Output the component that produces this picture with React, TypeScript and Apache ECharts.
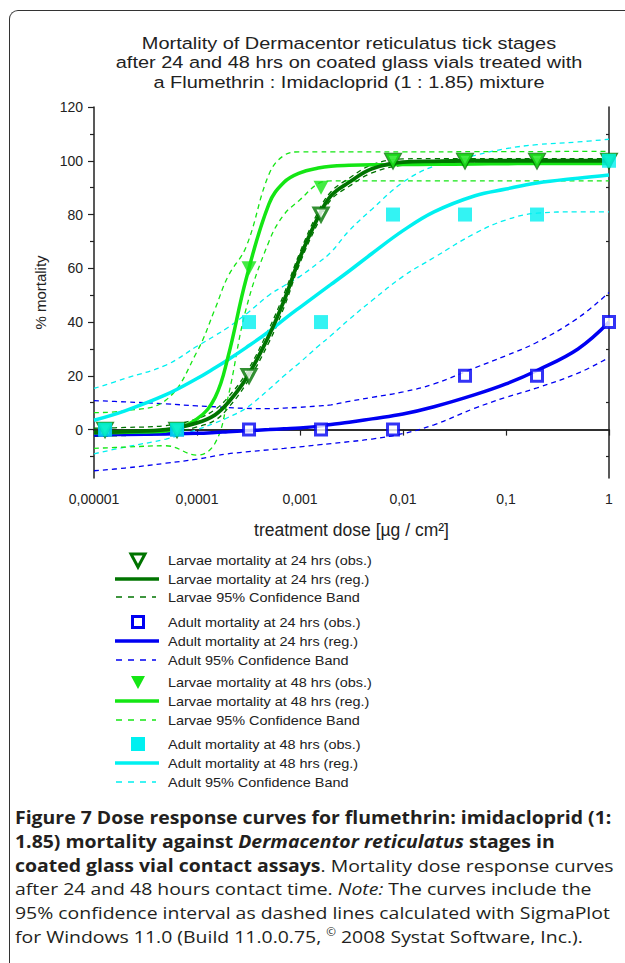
import React, { useEffect, useRef } from "react";
import * as echarts from "echarts";

// ---------- data ----------
const curveDoses = [1e-5, 2e-5, 5e-5, 1e-4, 1.5e-4, 2e-4, 3e-4, 5e-4, 7e-4, 1e-3, 1.5e-3, 2e-3, 3e-3, 5e-3, 1e-2, 2e-2, 5e-2, 0.1, 0.2, 0.5, 1];

const larvae24Reg = [-1, -0.7, 0, 2.5, 5.5, 10, 19, 35, 48, 64, 79, 87, 92, 97, 99.5, 99.8, 100, 100, 100, 100, 100];
const larvae24Upper = [0.5, 0.8, 1.5, 4, 7.5, 12, 21, 37.5, 50.5, 66, 81, 88.5, 93.5, 98.5, 100.7, 100.8, 100.8, 100.8, 100.8, 100.8, 100.8];
const larvae24Lower = [-2.5, -2.2, -1.5, 1, 3.5, 8, 17, 32.5, 45.5, 62, 77, 85.5, 90.5, 95.5, 98.3, 98.8, 99, 99.2, 99.2, 99.2, 99.2];

const larvae48Reg = [-1.2, -1, -0.5, 4, 12, 27, 56, 84, 92, 95.5, 97.3, 98, 98.3, 98.5, 98.6, 98.7, 98.8, 98.9, 99, 99, 99];
const larvae48Upper = [6.3, 7, 11, 29, 45, 57, 68, 95, 102, 103.3, 103.3, 103.3, 103.3, 103.3, 103.3, 103.3, 103.4, 103.4, 103.4, 103.5, 103.5];
const larvae48Lower = [-7, -6.5, -6, -9.5, -5, 12, 45, 70, 80, 85.5, 91.5, 92.5, 92.5, 92.5, 92.5, 92.5, 92.5, 92.5, 92.5, 92.5, 92.5];

const adult24Reg = [-2, -1.8, -1.6, -1.4, -1.1, -0.8, -0.4, 0, 0.3, 0.6, 1.2, 1.9, 2.7, 4, 5.8, 8.5, 13, 17, 22, 30, 40];
const adult24Upper = [10.8, 10.3, 9.6, 8.8, 8.5, 8.2, 7.9, 7.8, 8, 8.3, 8.8, 9.2, 10.5, 12, 14, 17, 23, 27.5, 32.5, 41.5, 51];
const adult24Lower = [-15.3, -14.3, -12.5, -11, -9.8, -9, -8.3, -7.5, -7, -6.4, -5.7, -5.2, -4.5, -3.5, -1.5, 1.8, 8, 12, 15.5, 21, 26.8];

const adult48Reg = [3.5, 7, 13, 19, 23, 26, 30.5, 36.5, 41, 45.5, 50.5, 54, 59, 65.5, 74, 81, 87, 89.5, 91.7, 93.5, 94.7];
const adult48Upper = [15.3, 19, 24, 31, 35, 38, 43, 50, 53.5, 57, 62, 66, 74, 82, 92, 98, 102, 104.5, 106, 107, 108];
const adult48Lower = [-9, -6.5, -3.5, 0, 2.5, 4.5, 8, 15, 20, 25, 31, 35, 41, 48, 57, 64, 73, 78, 80.5, 81, 81];

const obsDoses = [1.28e-5, 6.4e-5, 3.2e-4, 1.6e-3, 8e-3, 0.04, 0.2, 1];
const larvae24Obs = [0, 0, 20, 80, 100, 100, 100, 100];
const adult24Obs = [0, 0, 0, 0, 0, 20, 20, 40];
const larvae48Obs = [0, 0, 60, 90, 100, 100, 100, 100];
const adult48Obs = [0, 0, 40, 40, 80, 80, 80, 100];

const xTickLabels = ["0,00001", "0,0001", "0,001", "0,01", "0,1", "1"];
const yTickValues = [0, 20, 40, 60, 80, 100, 120];
const yMinorTickValues = [-10, 10, 30, 50, 70, 90, 110];

const titleLines = [
  "Mortality of Dermacentor reticulatus tick stages",
  "after 24 and 48 hrs on coated glass vials treated with",
  "a Flumethrin : Imidacloprid (1 : 1.85) mixture",
];

const legendLabels = [
  "Larvae mortality at 24 hrs (obs.)",
  "Larvae mortality at 24 hrs (reg.)",
  "Larvae 95% Confidence Band",
  "Adult mortality at 24 hrs (obs.)",
  "Adult mortality at 24 hrs (reg.)",
  "Adult 95% Confidence Band",
  "Larvae mortality at 48 hrs (obs.)",
  "Larvae mortality at 48 hrs (reg.)",
  "Larvae 95% Confidence Band",
  "Adult mortality at 48 hrs (obs.)",
  "Adult mortality at 48 hrs (reg.)",
  "Adult 95% Confidence Band",
];

// ---------- styles ----------
const DARK = "#007400";
const LIME = "#14e614";
const BLUE = "#0000f2";
const CYAN = "#00f0f0";
const INK = "#222222";
const FONT = '"Liberation Sans", Arial, sans-serif';

const pairs = (xs: number[], ys: number[]) => xs.map((x, i) => [x, ys[i]]);

function curve(ys: number[], color: string, width: number, dashed: boolean, z: number) {
  return {
    type: "line",
    data: pairs(curveDoses, ys),
    symbol: "none",
    showSymbol: false,
    smooth: 0.4,
    silent: true,
    lineStyle: { color, width, type: dashed ? [5, 4] : "solid" },
    z,
  };
}

export default function App() {
  const ref = useRef<HTMLDivElement>(null);

  useEffect(() => {
    if (!ref.current) return;
    const chart = echarts.init(ref.current, undefined, { renderer: "svg" });

    const legendRowsY = [560, 579, 597, 622, 641, 660, 682, 701, 720, 744, 763, 782];
    const legendKinds = [
      ["hollowTri", DARK], ["solid", DARK], ["dash", DARK],
      ["hollowSq", BLUE], ["solid", BLUE], ["dash", BLUE],
      ["tri", LIME], ["solid", LIME], ["dash", LIME],
      ["sq", CYAN], ["solid", CYAN], ["dash", CYAN],
    ];
    const legendGraphics: any[] = [];
    legendKinds.forEach(([kind, color], i) => {
      const y = legendRowsY[i];
      const cx = 138;
      if (kind === "hollowTri" || kind === "tri") {
        legendGraphics.push({
          type: "polygon",
          shape: { points: [[cx - 7, y - 6], [cx + 7, y - 6], [cx, y + 7]] },
          style: kind === "tri" ? { fill: color } : { fill: "#fff", stroke: color, lineWidth: 3 },
        });
      } else if (kind === "hollowSq") {
        legendGraphics.push({
          type: "rect",
          shape: { x: cx - 5.5, y: y - 5.5, width: 11, height: 11 },
          style: { fill: "#fff", stroke: color, lineWidth: 3 },
        });
      } else if (kind === "sq") {
        legendGraphics.push({
          type: "rect",
          shape: { x: cx - 7, y: y - 7, width: 14, height: 14 },
          style: { fill: color },
        });
      } else if (kind === "solid") {
        legendGraphics.push({
          type: "line",
          shape: { x1: 115, y1: y, x2: 159, y2: y },
          style: { stroke: color, lineWidth: 3.5 },
        });
      } else {
        legendGraphics.push({
          type: "line",
          shape: { x1: 116, y1: y, x2: 156, y2: y },
          style: { stroke: color, lineWidth: 1.3, lineDash: [6, 6] },
        });
      }
      legendGraphics.push({
        type: "text",
        x: 168,
        y,
        scaleX: 1.07,
        style: {
          text: legendLabels[i],
          font: `13.5px ${FONT}`,
          fill: INK,
          textAlign: "left",
          textVerticalAlign: "middle",
        },
      });
    });

    const titleGraphics = titleLines.map((t, i) => ({
      type: "text",
      x: 349,
      y: [43, 62, 82][i],
      scaleX: 1.16,
      style: {
        text: t,
        font: `17.2px ${FONT}`,
        fill: INK,
        textAlign: "center",
        textVerticalAlign: "middle",
      },
    }));

    const axisLine = { show: true, lineStyle: { color: INK, width: 1.5 } };

    chart.setOption({
      animation: false,
      backgroundColor: "transparent",
      textStyle: { fontFamily: FONT },
      grid: { left: 94, top: 107, width: 515, height: 371, containLabel: false },
      xAxis: [
        {
          type: "log",
          logBase: 10,
          min: 1e-5,
          max: 1,
          interval: 1,
          position: "bottom",
          axisLine,
          axisTick: { show: true, length: 6, lineStyle: { color: INK, width: 1.2 } },
          axisLabel: {
            color: INK,
            fontSize: 14,
            margin: 14,
            formatter: (v: number) => xTickLabels[Math.round(Math.log10(v)) + 5] ?? "",
          },
          splitLine: { show: false },
          minorTick: { show: false },
          name: "treatment dose [µg / cm²]",
          nameLocation: "middle",
          nameGap: 43,
          nameTextStyle: { color: INK, fontSize: 17.5, fontFamily: FONT },
        },
        {
          type: "log",
          logBase: 10,
          min: 1e-5,
          max: 1,
          position: "top",
          axisLine,
          axisTick: { show: false },
          axisLabel: { show: false },
          splitLine: { show: false },
        },
      ],
      yAxis: [
        {
          type: "value",
          min: -18,
          max: 120,
          position: "left",
          axisLine,
          axisTick: { show: true, length: 6, customValues: yTickValues, lineStyle: { color: INK, width: 1.2 } },
          axisLabel: { show: true, color: INK, fontSize: 14, margin: 11, customValues: yTickValues },
          splitLine: { show: false },
          name: "% mortality",
          nameLocation: "middle",
          nameRotate: 90,
          nameGap: 46,
          nameTextStyle: { color: INK, fontSize: 15, fontFamily: FONT },
        },
        {
          type: "value",
          min: -18,
          max: 120,
          position: "left",
          axisLine: { show: false },
          axisTick: { show: true, length: 4, customValues: yMinorTickValues, lineStyle: { color: INK, width: 1.2 } },
          axisLabel: { show: false },
          splitLine: { show: false },
        },
        {
          type: "value",
          min: -18,
          max: 120,
          position: "right",
          axisLine,
          axisTick: { show: true, inside: true, length: 3, customValues: yMinorTickValues, lineStyle: { color: INK, width: 1.2 } },
          axisLabel: { show: false },
          splitLine: { show: false },
        },
      ],
      series: [
        curve(adult24Upper, BLUE, 1.3, true, 2),
        curve(adult24Lower, BLUE, 1.3, true, 2),
        curve(adult48Upper, CYAN, 1.3, true, 2),
        curve(adult48Lower, CYAN, 1.3, true, 2),
        curve(larvae48Upper, LIME, 1.3, true, 2),
        curve(larvae48Lower, LIME, 1.3, true, 2),
        curve(larvae24Upper, DARK, 1.3, true, 2),
        curve(larvae24Lower, DARK, 1.3, true, 2),
        curve(adult24Reg, BLUE, 3.5, false, 3),
        curve(adult48Reg, CYAN, 3.5, false, 3),
        curve(larvae48Reg, LIME, 3.5, false, 3),
        curve(larvae24Reg, DARK, 3.8, false, 3),
        {
          type: "scatter",
          data: pairs(obsDoses, adult24Obs),
          symbol: "rect",
          symbolSize: 11,
          clip: false,
          itemStyle: { color: "#fff", borderColor: BLUE, borderWidth: 3 },
          z: 5,
        },
        {
          type: "scatter",
          data: pairs(obsDoses, larvae24Obs),
          symbol: "triangle",
          symbolRotate: 180,
          symbolSize: [14, 13],
          clip: false,
          itemStyle: { color: "#fff", borderColor: DARK, borderWidth: 3 },
          z: 5,
        },
        {
          type: "scatter",
          data: pairs(obsDoses, larvae48Obs),
          symbol: "triangle",
          symbolRotate: 180,
          symbolSize: [15, 14],
          clip: false,
          itemStyle: { color: LIME },
          z: 6,
        },
        {
          type: "scatter",
          data: pairs(obsDoses, adult48Obs),
          symbol: "rect",
          symbolSize: 14,
          clip: false,
          itemStyle: { color: CYAN },
          z: 6,
        },
      ],
      graphic: [...titleGraphics, ...legendGraphics],
    });

    return () => chart.dispose();
  }, []);

  return (
    <div style={{ position: "absolute", left: 0, top: 0, width: 625, height: 963, overflow: "hidden", background: "#fff" }}>
      <div
        style={{
          position: "absolute",
          left: 9,
          top: 10,
          width: 660,
          height: 980,
          borderLeft: "1.5px solid #333",
          borderTop: "1.5px solid #333",
          borderTopLeftRadius: 9,
        }}
      />
      <div ref={ref} style={{ position: "absolute", left: 0, top: 0, width: 625, height: 800 }} />
      <div
        style={{
          position: "absolute",
          left: 15,
          top: 806,
          fontFamily: '"Open Sans", sans-serif',
          fontSize: 17.2,
          lineHeight: "23.8px",
          color: "#231f20",
          whiteSpace: "nowrap",
          transform: "scaleX(1.13)",
          transformOrigin: "0 0",
        }}
      >
        <b>Figure 7 Dose response curves for flumethrin: imidacloprid (1:</b>
        <br />
        <b>
          1.85) mortality against <i>Dermacentor reticulatus</i> stages in
        </b>
        <br />
        <b>coated glass vial contact assays</b>. Mortality dose response curves
        <br />
        after 24 and 48 hours contact time. <i>Note:</i> The curves include the
        <br />
        95% confidence interval as dashed lines calculated with SigmaPlot
        <br />
        for Windows 11.0 (Build 11.0.0.75,{" "}
        <span style={{ fontSize: "0.6em", position: "relative", top: "-0.7em", lineHeight: 0 }}>©</span> 2008 Systat
        Software, Inc.).
      </div>
    </div>
  );
}
